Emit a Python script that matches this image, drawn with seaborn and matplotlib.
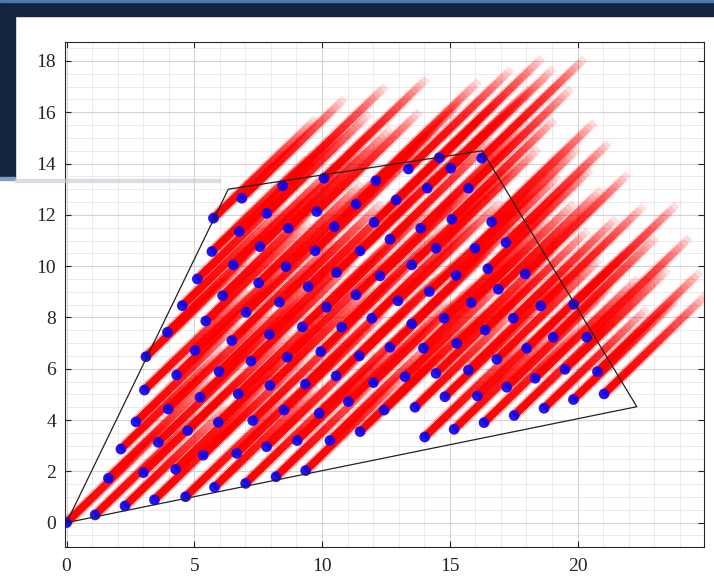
import numpy as np
import matplotlib
matplotlib.use('Agg')
import matplotlib.pyplot as plt
import seaborn as sns
import pandas as pd
from matplotlib.collections import LineCollection
from matplotlib.patches import Rectangle
from matplotlib.ticker import MultipleLocator

# node positions
node_x = [0.00, 1.12, 2.29, 3.44, 4.66, 5.79, 7.01, 8.20, 9.36,
          1.64, 3.01, 4.27, 5.35, 6.66, 7.83, 9.03, 10.31, 11.49,
          2.13, 3.59, 4.74, 5.94, 7.29, 8.51, 9.89, 11.03, 12.43,
          2.72, 3.98, 5.23, 6.72, 7.96, 9.35, 10.55, 12.01,
          3.05, 4.31, 5.97, 7.22, 8.64, 9.95, 11.46,
          3.11, 5.03, 6.47, 7.94, 9.23, 10.77,
          3.95, 5.45, 7.03, 8.33, 10.18,
          4.53, 6.11, 7.52, 9.46,
          5.12, 6.53, 8.59, 10.57,
          5.69, 7.57, 9.73, 11.49,
          5.75, 6.76, 8.68, 10.48, 12.04,
          6.86, 7.84, 9.79, 11.33, 12.90,
          8.46, 10.08, 12.11, 13.38, 14.59, 16.25, 14.12, 15.04, 15.73,
          12.66, 13.86, 15.08, 16.64, 14.46, 15.99, 17.20,
          12.27, 13.51, 15.25, 16.49, 17.95,
          11.33, 12.97, 14.20, 15.84, 16.90, 18.56, 19.85,
          11.95, 13.51, 14.78, 16.38, 17.49, 19.05, 20.36,
          12.66, 13.97, 15.27, 16.84, 18.01, 19.51, 20.78,
          13.25, 14.46, 15.73, 17.23, 18.34, 19.84, 21.04,
          13.64, 14.81, 16.08, 17.52, 18.69,
          14.02, 15.17, 16.34]
node_y = [0.00, 0.30, 0.65, 0.89, 1.01, 1.38, 1.53, 1.79, 2.03,
          1.73, 1.95, 2.08, 2.63, 2.70, 2.96, 3.20, 3.20, 3.55,
          2.87, 3.13, 3.59, 3.91, 3.98, 4.39, 4.26, 4.72, 4.39,
          3.93, 4.43, 4.89, 5.02, 5.35, 5.40, 5.72, 5.46,
          5.17, 5.76, 5.89, 6.30, 6.45, 6.67, 6.50,
          6.47, 6.71, 7.10, 7.34, 7.63, 7.62,
          7.42, 7.86, 8.20, 8.60, 8.40,
          8.46, 8.85, 9.35, 9.20,
          9.50, 10.05, 9.98, 9.75,
          10.57, 10.76, 10.60, 10.60,
          11.87, 11.35, 11.48, 11.54, 11.71,
          12.65, 12.06, 12.13, 12.42, 12.58,
          13.13, 13.43, 13.33, 13.79, 14.23, 14.21, 13.04, 13.82, 13.04,
          11.05, 11.48, 11.83, 11.73, 10.70, 10.70, 10.92,
          9.62, 10.05, 9.64, 9.90, 9.70,
          8.88, 8.65, 9.01, 8.58, 9.10, 8.45, 8.51,
          7.97, 7.75, 7.97, 7.51, 7.97, 7.23, 7.23,
          6.84, 6.80, 6.99, 6.37, 6.80, 5.98, 5.89,
          5.69, 5.82, 5.95, 5.28, 5.63, 4.80, 5.02,
          4.50, 4.91, 4.94, 4.18, 4.46,
          3.34, 3.64, 3.90]

# boundary of the domain
boundary_x = [0.0, 6.33, 16.27, 22.32, 0.0]
boundary_y = [0.0, 13.00, 14.50, 4.52, 0.0]

x_ticks = [0, 5, 10, 15, 20]
y_ticks = [0, 2, 4, 6, 8, 10, 12, 14, 16, 18]

nodes = pd.DataFrame({'x': node_x, 'y': node_y})
boundary = pd.DataFrame({'x': boundary_x, 'y': boundary_y})

sns.set_style('ticks')
plt.rcParams['font.family'] = ['Liberation Serif', 'DejaVu Serif']

W, H = 714, 579
fig = plt.figure(figsize=(W / 100, H / 100), dpi=100)

# slide background pieces around the pasted chart
navy = '#13243f'
fig.patches.append(Rectangle((0, 1 - 16 / H), 1, 16 / H, transform=fig.transFigure,
                             color=navy, zorder=0))
fig.patches.append(Rectangle((0, 1 - 1.5 / H), 1, 1.5 / H, transform=fig.transFigure,
                             color='#4a78b2', zorder=0))
fig.patches.append(Rectangle((0, 1 - 177 / H), 15 / W, 161 / H, transform=fig.transFigure,
                             color=navy, zorder=0))
fig.patches.append(Rectangle((0, 1 - 180 / H), 15 / W, 3 / H, transform=fig.transFigure,
                             color='#7f9cc6', zorder=0))
fig.patches.append(Rectangle((15 / W, 1 - 182 / H), 205 / W, 3 / H, transform=fig.transFigure,
                             color='#c9cfd8', alpha=0.6, zorder=0))

ax = fig.add_axes([64.5 / W, 1 - 547 / H, (704 - 64.5) / W, (547 - 42) / H])
ax.set_xlim(-0.08, 24.95)
ax.set_ylim(-0.95, 18.74)

# tails behind each node: stacked lines of growing length so the red fades out
ang = np.deg2rad(44)
tail_len = 5.6
nstack = 30
core, halo = [], []
for x0, y0 in zip(node_x, node_y):
    for k in range(1, nstack + 1):
        f = tail_len * k / nstack
        seg = [(x0, y0), (x0 + f * np.cos(ang), y0 + f * np.sin(ang))]
        core.append(seg)
        if k > nstack // 3:
            halo.append(seg)
ax.add_collection(LineCollection(halo, colors=[(1, 0, 0, 0.014)], linewidths=8,
                                 capstyle='round', zorder=3))
ax.add_collection(LineCollection(core, colors=[(1, 0, 0, 0.1)], linewidths=5.3,
                                 capstyle='butt', zorder=3))

sns.scatterplot(data=nodes, x='x', y='y', ax=ax, color='#0000ff', s=58,
                edgecolor='none', alpha=0.88, zorder=4, legend=False)
sns.lineplot(data=boundary, x='x', y='y', ax=ax, sort=False, estimator=None,
             color='#222222', linewidth=0.9, zorder=5)

ax.set_xticks(x_ticks)
ax.set_yticks(y_ticks)
ax.xaxis.set_minor_locator(MultipleLocator(1))
ax.yaxis.set_minor_locator(MultipleLocator(0.5))
ax.grid(which='major', color='#d4d4d4', linewidth=0.8)
ax.grid(which='minor', color='#e8e8e8', linewidth=0.6)
ax.set_axisbelow(True)
ax.tick_params(which='major', direction='in', length=4, width=0.8, top=True, right=True,
               labelsize=14, labelcolor='#262626', color='#262626')
ax.tick_params(which='minor', length=0)
ax.tick_params(axis='x', pad=8)
ax.tick_params(axis='y', pad=6)
for s in ax.spines.values():
    s.set_color('#262626')
    s.set_linewidth(0.8)
ax.set_xlabel('')
ax.set_ylabel('')

fig.savefig('out.png', dpi=100)
